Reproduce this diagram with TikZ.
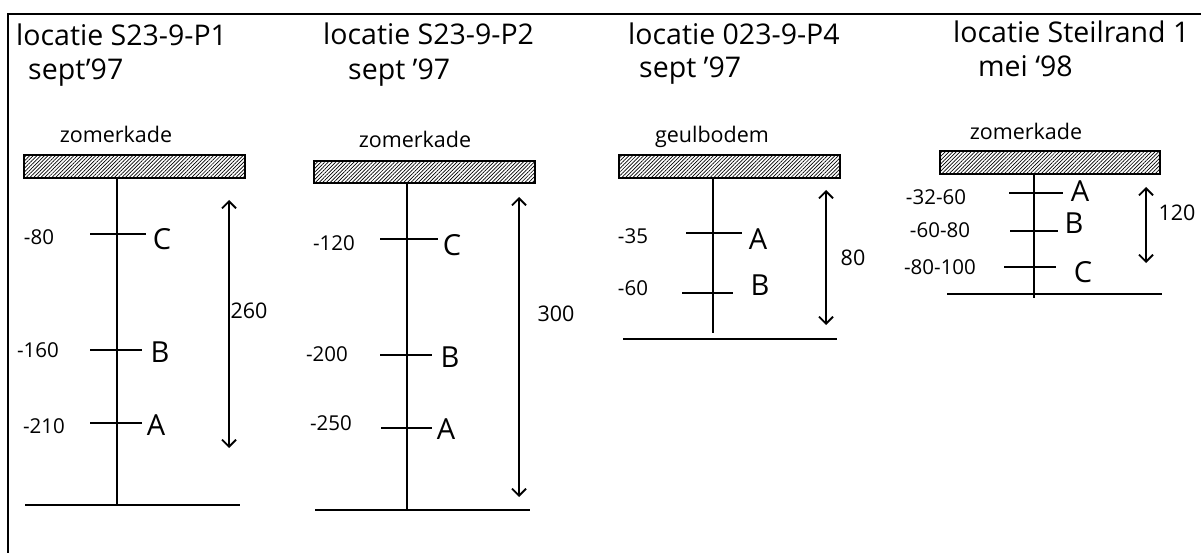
\documentclass[tikz,border=0pt]{standalone}
\usepackage{fontspec}
\setmainfont{Open Sans}
\usetikzlibrary{arrows.meta,patterns.meta}
\begin{document}
\begin{tikzpicture}[x=1pt,y=-1pt,
  title/.style={font=\fontsize{28.5}{32}\selectfont, anchor=base west, inner sep=0pt},
  toplabel/.style={font=\fontsize{21.5}{24}\selectfont, anchor=base, inner sep=0pt},
  depthlabel/.style={font=\fontsize{20.5}{23}\selectfont, inner sep=0pt},
  layerlabel/.style={font=\fontsize{29}{32}\selectfont, inner sep=0pt},
  dimlabel/.style={font=\fontsize{21.5}{24}\selectfont, inner sep=0pt},
  hatchbox/.style={draw, line width=1.9pt, minimum width=221pt, minimum height=23pt, inner sep=0pt,
    pattern={Lines[angle=45,distance=2.6pt,line width=0.7pt]}},
  mainline/.style={line width=1.9pt},
  tickline/.style={line width=1.5pt},
  dimarrow/.style={line width=1.8pt, {Straight Barb[length=7pt,width=14pt]}-{Straight Barb[length=7pt,width=14pt]}}
]
\useasboundingbox (0,0) rectangle (1201,553);
% frame
\coordinate (fTR) at (1201,14);
\coordinate (fTL) at (8,14);
\coordinate (fBL) at (8,553);
\draw[mainline] (fTR) -- (fTL) -- (fBL);

% ---------- panel 1 ----------
\node[title] (t1a) at (16,46) {locatie S23-9-P1};
\node[title] (t1b) at (28,80) {sept'97};
\node[toplabel] (z1) at (116,143) {zomerkade};
\node[hatchbox] (box1) at (134.5,166.5) {};
\coordinate (v1b) at (117,505);
\draw[mainline] (box1.south -| v1b) -- (v1b);
\coordinate (g1l) at (25,505);
\coordinate (g1r) at (240,505);
\draw[mainline] (g1l) -- (g1r);
\coordinate (k1cl) at (90,234); \coordinate (k1cr) at (146,234);
\coordinate (k1bl) at (90,350); \coordinate (k1br) at (142,350);
\coordinate (k1al) at (90,423); \coordinate (k1ar) at (142,423);
\draw[tickline] (k1cl) -- (k1cr);
\draw[tickline] (k1bl) -- (k1br);
\draw[tickline] (k1al) -- (k1ar);
\node[depthlabel] (d1c) at (39,237) {-80};
\node[depthlabel] (d1b) at (38,350) {-160};
\node[depthlabel] (d1a) at (44,426) {-210};
\node[layerlabel] (l1c) at (162,239) {C};
\node[layerlabel] (l1b) at (160,352) {B};
\node[layerlabel] (l1a) at (156,425) {A};
\coordinate (a1t) at (229,200);
\coordinate (a1b) at (229,448);
\draw[dimarrow] (a1t) -- (a1b);
\node[dimlabel] (m1) at (249,311) {260};

% ---------- panel 2 ----------
\node[title] (t2a) at (323,45) {locatie S23-9-P2};
\node[title] (t2b) at (348,80) {sept '97};
\node[toplabel] (z2) at (415,148) {zomerkade};
\node[hatchbox, minimum height=22pt] (box2) at (424.5,172) {};
\coordinate (v2b) at (407,510);
\draw[mainline] (box2.south -| v2b) -- (v2b);
\coordinate (g2l) at (315,510);
\coordinate (g2r) at (530,510);
\draw[mainline] (g2l) -- (g2r);
\coordinate (k2cl) at (380,239); \coordinate (k2cr) at (438,239);
\coordinate (k2bl) at (380,355); \coordinate (k2br) at (432,355);
\coordinate (k2al) at (381,428); \coordinate (k2ar) at (432,428);
\draw[tickline] (k2cl) -- (k2cr);
\draw[tickline] (k2bl) -- (k2br);
\draw[tickline] (k2al) -- (k2ar);
\node[depthlabel] (d2c) at (334,243) {-120};
\node[depthlabel] (d2b) at (327,354) {-200};
\node[depthlabel] (d2a) at (331,423) {-250};
\node[layerlabel] (l2c) at (452,245) {C};
\node[layerlabel] (l2b) at (450,357) {B};
\node[layerlabel] (l2a) at (446,429) {A};
\coordinate (a2t) at (519,197);
\coordinate (a2b) at (519,497);
\draw[dimarrow] (a2t) -- (a2b);
\node[dimlabel] (m2) at (556,314) {300};

% ---------- panel 3 ----------
\node[title] (t3a) at (628,45) {locatie 023-9-P4};
\node[title] (t3b) at (639,78) {sept '97};
\node[toplabel] (z3) at (712,143) {geulbodem};
\node[hatchbox] (box3) at (729.5,166.5) {};
\coordinate (v3b) at (713,333);
\draw[mainline] (box3.south -| v3b) -- (v3b);
\coordinate (g3l) at (623,339);
\coordinate (g3r) at (837,339);
\draw[mainline] (g3l) -- (g3r);
\coordinate (k3al) at (686,233); \coordinate (k3ar) at (742,233);
\coordinate (k3bl) at (682,293); \coordinate (k3br) at (733,293);
\draw[tickline] (k3al) -- (k3ar);
\draw[tickline] (k3bl) -- (k3br);
\node[depthlabel] (d3a) at (633,236) {-35};
\node[depthlabel] (d3b) at (633,288) {-60};
\node[layerlabel] (l3a) at (758,239) {A};
\node[layerlabel] (l3b) at (760,285) {B};
\coordinate (a3t) at (826,190);
\coordinate (a3b) at (826,325);
\draw[dimarrow] (a3t) -- (a3b);
\node[dimlabel] (m3) at (853,258) {80};

% ---------- panel 4 ----------
\node[title] (t4a) at (953,43) {locatie Steilrand 1};
\node[title] (t4b) at (978,77) {mei ‘98};
\node[toplabel] (z4) at (1026,140) {zomerkade};
\node[hatchbox, minimum width=220pt] (box4) at (1050,162.5) {};
\coordinate (v4b) at (1034,298);
\draw[mainline] (box4.south -| v4b) -- (v4b);
\coordinate (g4l) at (947,294);
\coordinate (g4r) at (1162,294);
\draw[mainline] (g4l) -- (g4r);
\coordinate (k4al) at (1009,193); \coordinate (k4ar) at (1063,193);
\coordinate (k4bl) at (1010,231); \coordinate (k4br) at (1058,231);
\coordinate (k4cl) at (1004,267); \coordinate (k4cr) at (1056,267);
\draw[tickline] (k4al) -- (k4ar);
\draw[tickline] (k4bl) -- (k4br);
\draw[tickline] (k4cl) -- (k4cr);
\node[depthlabel] (d4a) at (936,197) {-32-60};
\node[depthlabel] (d4b) at (940,230) {-60-80};
\node[depthlabel] (d4c) at (940,267) {-80-100};
\node[layerlabel] (l4a) at (1080,191) {A};
\node[layerlabel] (l4b) at (1074,223) {B};
\node[layerlabel] (l4c) at (1083,272) {C};
\coordinate (a4t) at (1146,187);
\coordinate (a4b) at (1146,263);
\draw[dimarrow] (a4t) -- (a4b);
\node[dimlabel] (m4) at (1177,213) {120};
\end{tikzpicture}
\end{document}
